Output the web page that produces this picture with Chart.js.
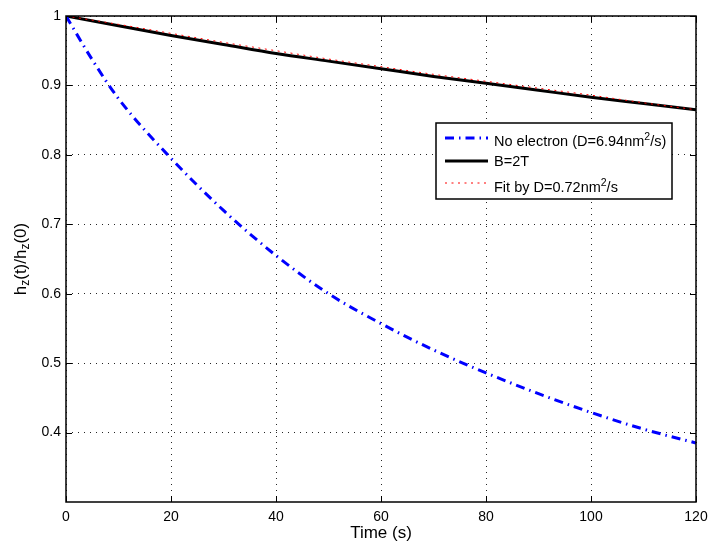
<!DOCTYPE html>
<html><head><meta charset="utf-8">
<script src="https://cdn.jsdelivr.net/npm/chart.js@4/dist/chart.umd.min.js"></script>
<style>html,body{margin:0;padding:0;background:#fff}</style>
</head><body>
<canvas id="c" width="711" height="546"></canvas>
<script>
// ---- data ----
const timeBlue = [0, 5, 10, 20, 30, 40, 50, 60, 70, 80, 90, 100, 110, 120];
const noElectron = [1, 0.937, 0.881, 0.795, 0.72, 0.655, 0.600, 0.557, 0.519, 0.486, 0.456, 0.429, 0.405, 0.385];
const timeFit = [0, 10, 20, 30, 40, 50, 60, 70, 80, 90, 100, 110, 120];
const b2T = [1, 0.986, 0.972, 0.959, 0.946, 0.935, 0.924, 0.913, 0.903, 0.893, 0.883, 0.874, 0.865];
const fitD = [1, 0.988, 0.975, 0.962, 0.950, 0.938, 0.927, 0.916, 0.906, 0.896, 0.886, 0.875, 0.865];
const seriesLabels = ['No electron (D=6.94nm²/s)', 'B=2T', 'Fit by D=0.72nm²/s'];
const xTickValues = [0, 20, 40, 60, 80, 100, 120];
const yTickValues = [0.4, 0.5, 0.6, 0.7, 0.8, 0.9, 1];
const xTitle = 'Time (s)';
const yTitleParts = [['h', false], ['z', true], ['(t)/h', false], ['z', true], ['(0)', false]];

const FONT = "'Liberation Sans', Arial, Helvetica, sans-serif";
const pts = (xs, ys) => xs.map((x, i) => ({x, y: ys[i]}));

const decor = {
  id: 'decor',
  afterDatasetsDraw(chart) {
    const {ctx, chartArea: a, scales: {x, y}} = chart;
    ctx.save();
    const line = (x1, y1, x2, y2) => { ctx.beginPath(); ctx.moveTo(x1, y1); ctx.lineTo(x2, y2); ctx.stroke(); };
    ctx.strokeStyle = '#000';
    ctx.setLineDash([]);
    ctx.lineWidth = 1;
    xTickValues.forEach(v => { const p = Math.round(x.getPixelForValue(v)) + 0.5; line(p, a.bottom, p, a.bottom - 6); line(p, a.top, p, a.top + 6); });
    yTickValues.forEach(v => { const p = Math.round(y.getPixelForValue(v)) + 0.5; line(a.left, p, a.left + 6, p); line(a.right, p, a.right - 6, p); });
    ctx.lineWidth = 1.5;
    ctx.strokeRect(a.left, a.top, a.right - a.left, a.bottom - a.top);

    // legend box
    const L = 436, T = 123, R = 672, B = 199;
    ctx.fillStyle = '#fff';
    ctx.fillRect(L, T, R - L, B - T);
    ctx.lineWidth = 1.5;
    ctx.strokeRect(L, T, R - L, B - T);
    const sampleY = [138, 161, 183];
    const textY = [146, 166, 192];
    chart.data.datasets.forEach((ds, i) => {
      ctx.save();
      ctx.strokeStyle = ds.borderColor;
      ctx.lineWidth = ds.borderWidth;
      ctx.setLineDash(ds.borderDash || []);
      line(445, sampleY[i], 488, sampleY[i]);
      ctx.restore();
      ctx.fillStyle = '#000';
      ctx.textBaseline = 'alphabetic';
      ctx.textAlign = 'left';
      let tx = 494;
      const parts = ds.label.split('²');
      parts.forEach((p, k) => {
        ctx.font = '14.5px ' + FONT;
        ctx.fillText(p, tx, textY[i]);
        tx += ctx.measureText(p).width;
        if (k < parts.length - 1) {
          ctx.font = '10.5px ' + FONT;
          ctx.fillText('2', tx, textY[i] - 6);
          tx += ctx.measureText('2').width;
        }
      });
    });

    // x title
    ctx.fillStyle = '#000';
    ctx.font = '17px ' + FONT;
    ctx.textAlign = 'center';
    ctx.textBaseline = 'middle';
    ctx.fillText(xTitle, (a.left + a.right) / 2, 533);

    // y title (rotated, with subscripts)
    ctx.save();
    ctx.translate(21, (a.top + a.bottom) / 2);
    ctx.rotate(-Math.PI / 2);
    ctx.textAlign = 'left';
    ctx.textBaseline = 'middle';
    let total = 0;
    yTitleParts.forEach(([s, sub]) => { ctx.font = (sub ? '12px ' : '17px ') + FONT; total += ctx.measureText(s).width; });
    let cx = -total / 2;
    yTitleParts.forEach(([s, sub]) => {
      ctx.font = (sub ? '12px ' : '17px ') + FONT;
      ctx.fillText(s, cx, sub ? 5 : 0);
      cx += ctx.measureText(s).width;
    });
    ctx.restore();
    ctx.restore();
  }
};

new Chart(document.getElementById('c'), {
  type: 'line',
  data: {
    datasets: [
      { label: seriesLabels[0], data: pts(timeBlue, noElectron), borderColor: '#0000ff', borderWidth: 3,
        borderDash: [9, 5, 1.5, 5], pointRadius: 0, fill: false, cubicInterpolationMode: 'monotone', order: 1 },
      { label: seriesLabels[1], data: pts(timeFit, b2T), borderColor: '#000000', borderWidth: 3,
        pointRadius: 0, fill: false, cubicInterpolationMode: 'monotone', order: 2 },
      { label: seriesLabels[2], data: pts(timeFit, fitD), borderColor: '#ff0000', borderWidth: 1,
        borderDash: [2, 4.5], pointRadius: 0, fill: false, cubicInterpolationMode: 'monotone', order: 0 }
    ]
  },
  options: {
    responsive: false,
    devicePixelRatio: 1,
    animation: false,
    layout: { padding: { top: 16, right: 15, left: 0, bottom: 0 } },
    plugins: { legend: { display: false }, tooltip: { enabled: false } },
    scales: {
      x: {
        type: 'linear', min: 0, max: 120,
        afterFit: s => { s.height = 44; s.paddingLeft = 0; s.paddingRight = 0; },
        afterBuildTicks: s => { s.ticks = xTickValues.map(v => ({value: v})); },
        ticks: { color: '#000', font: { family: FONT, size: 14 }, padding: 7, maxRotation: 0, callback: v => String(v) },
        grid: { color: 'rgba(0,0,0,0.85)', lineWidth: 1, drawTicks: false },
        border: { display: false, dash: [1, 5] }
      },
      y: {
        type: 'linear', min: 0.3, max: 1,
        afterFit: s => { s.width = 66; s.paddingTop = 0; s.paddingBottom = 0; },
        afterBuildTicks: s => { s.ticks = yTickValues.map(v => ({value: v})); },
        ticks: { color: '#000', font: { family: FONT, size: 14 }, padding: 5, callback: v => String(Math.round(v * 10) / 10) },
        grid: { color: 'rgba(0,0,0,0.85)', lineWidth: 1, drawTicks: false },
        border: { display: false, dash: [1, 5] }
      }
    }
  },
  plugins: [decor]
});
</script>
</body></html>
